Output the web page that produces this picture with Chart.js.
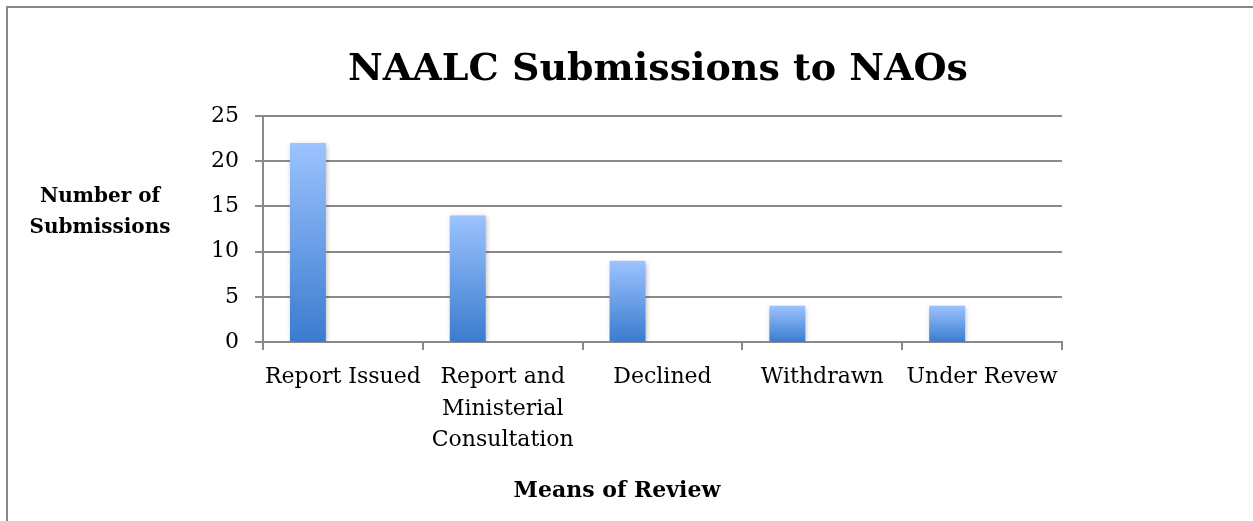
<!DOCTYPE html>
<html>
<head>
<meta charset="utf-8">
<script src="https://cdn.jsdelivr.net/npm/chart.js@4.4.0/dist/chart.umd.min.js"></script>
<style>
  html, body { margin: 0; padding: 0; background: #fff; overflow: hidden; }
  #frame {
    position: absolute; left: 6px; top: 6px; width: 1300px; height: 600px;
    border-left: 2px solid #888; border-top: 2px solid #888;
  }
  #barChart { position: absolute; left: 0; top: 0; }
</style>
</head>
<body>
<div id="frame"></div>
<canvas id="barChart" width="1253" height="521"></canvas>
<script>
const categories = [
    "Report Issued",
    ["Report and", "Ministerial", "Consultation"],
    "Declined",
    "Withdrawn",
    "Under Revew",
];
const submissions = [22, 14, 9, 4, 4];
const emptySeries = [null, null, null, null, null];
const yTicks = [0, 5, 10, 15, 20, 25];

const chartTitle = "NAALC Submissions to NAOs";
const xTitle = "Means of Review";
const yTitle = ["Number of", "Submissions"];

const serif = "'DejaVu Serif', 'Liberation Serif', serif";
const gridGray = "#8a8a8a";

// gradient per bar, light on top, darker at the bottom
const barGradient = (context) => {
    const chart = context.chart;
    if (!chart.chartArea || context.raw == null) return "#5b8fdc";
    const y = chart.scales.y;
    const top = y.getPixelForValue(context.raw);
    const bottom = y.getPixelForValue(0);
    const g = chart.ctx.createLinearGradient(0, top, 0, bottom);
    g.addColorStop(0, "#9cc3ff");
    g.addColorStop(1, "#3b7bcf");
    return g;
};

// titles are drawn by hand so they sit where the original put them
const titlesPlugin = {
    id: "titles",
    afterDraw(chart) {
        const ctx = chart.ctx;
        ctx.save();
        ctx.fillStyle = "#000";
        ctx.textAlign = "center";
        ctx.textBaseline = "alphabetic";

        ctx.font = "bold 38px " + serif;
        ctx.fillText(chartTitle, 658, 80);

        ctx.font = "bold 22px " + serif;
        ctx.fillText(xTitle, 617, 497);

        ctx.font = "bold 20px " + serif;
        ctx.fillText(yTitle[0], 100, 202);
        ctx.fillText(yTitle[1], 100, 233);
        ctx.restore();
    },
};

const shadowPlugin = {
    id: "barShadow",
    beforeDatasetsDraw(chart) {
        const ctx = chart.ctx;
        ctx.save();
        ctx.shadowColor = "rgba(0,0,0,0.28)";
        ctx.shadowBlur = 5;
        ctx.shadowOffsetX = 1;
        ctx.shadowOffsetY = 2;
    },
    afterDatasetsDraw(chart) {
        chart.ctx.restore();
    },
};

const ctx = document.getElementById("barChart").getContext("2d");
new Chart(ctx, {
    type: "bar",
    data: {
        labels: categories,
        datasets: [
            {
                label: "Submissions",
                data: submissions,
                backgroundColor: barGradient,
                borderWidth: 0,
                categoryPercentage: 0.875,
                barPercentage: 0.514,
            },
            {
                label: "",
                data: emptySeries,
                backgroundColor: "rgba(0,0,0,0)",
                categoryPercentage: 0.875,
                barPercentage: 0.514,
            },
        ],
    },
    options: {
        responsive: false,
        animation: false,
        layout: { padding: { left: 180, right: 191, top: 116, bottom: 0 } },
        plugins: {
            legend: { display: false },
            tooltip: { enabled: false },
            title: { display: false },
        },
        scales: {
            x: {
                afterFit: (scale) => { scale.height = 179; },
                grid: {
                    offset: true,
                    drawOnChartArea: false,
                    drawTicks: true,
                    tickLength: 8,
                    color: gridGray,
                    lineWidth: 2,
                },
                border: { display: true, color: gridGray, width: 2 },
                ticks: {
                    color: "#000",
                    font: { family: serif, size: 22, lineHeight: 1.45 },
                    padding: 11,
                    maxRotation: 0,
                    autoSkip: false,
                },
            },
            y: {
                min: 0,
                max: 25,
                afterFit: (scale) => { scale.width = 83; },
                afterBuildTicks: (scale) => {
                    scale.ticks = yTicks.map((v) => ({ value: v }));
                },
                grid: {
                    color: gridGray,
                    lineWidth: 2,
                    tickLength: 8,
                },
                border: { display: true, color: gridGray, width: 2 },
                ticks: {
                    color: "#000",
                    font: { family: serif, size: 22 },
                    padding: 16,
                },
            },
        },
    },
    plugins: [shadowPlugin, titlesPlugin],
});
</script>
</body>
</html>
